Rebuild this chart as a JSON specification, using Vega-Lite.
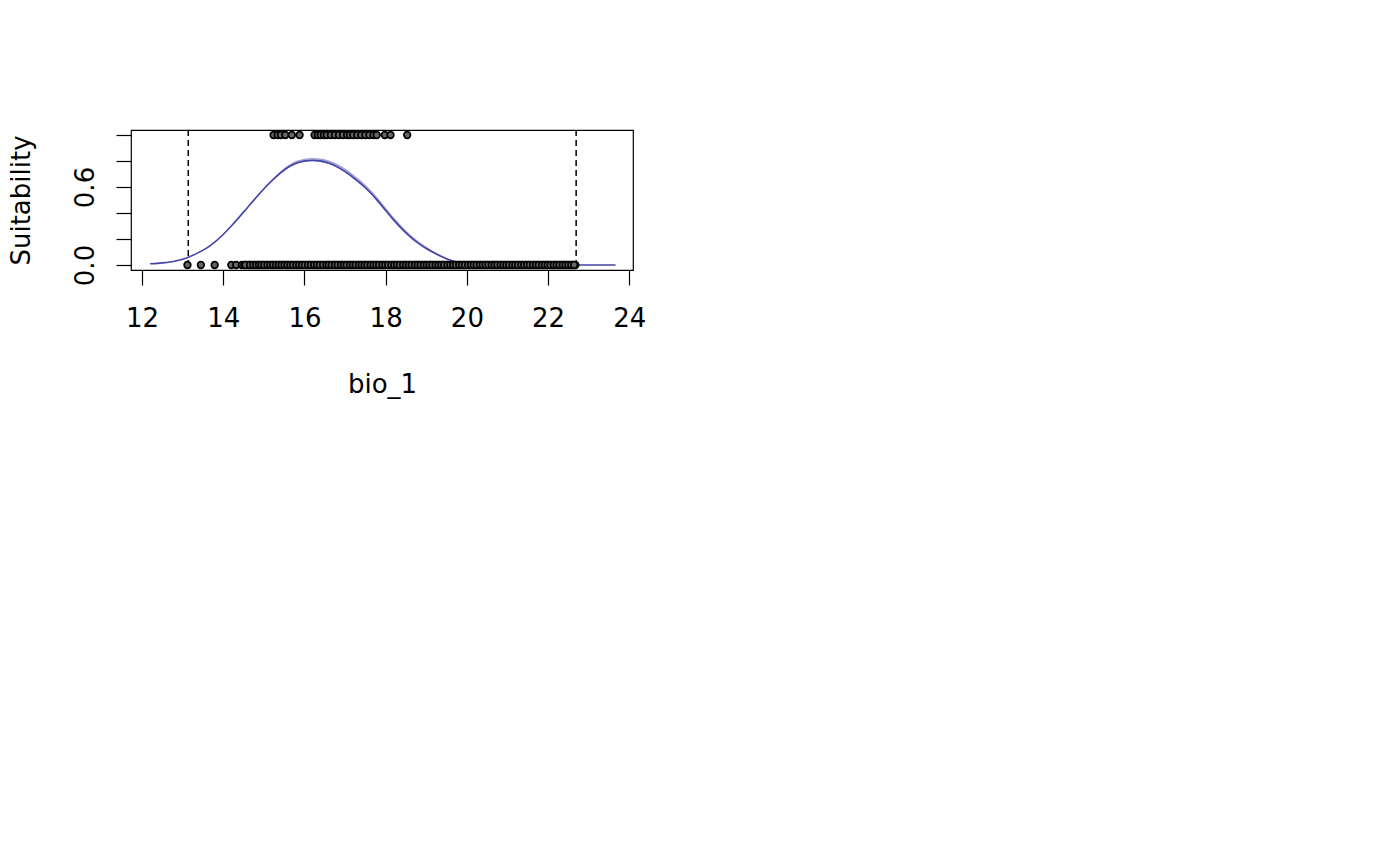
{
  "$schema": "https://vega.github.io/schema/vega-lite/v6.json",
  "width": 502,
  "height": 140,
  "autosize": {"type": "none"},
  "padding": {"left": 131, "top": 130, "right": 767, "bottom": 596},
  "background": "white",
  "config": {
    "view": {"stroke": "black", "strokeWidth": 1.2},
    "font": "DejaVu Sans",
    "axis": {"grid": false, "domain": false, "tickColor": "black", "tickWidth": 1.2, "tickSize": 15, "labelColor": "black", "titleColor": "black", "labelFont": "DejaVu Sans", "titleFont": "DejaVu Sans", "labelFontSize": 26, "titleFontSize": 26, "titleFontWeight": "normal", "labelOverlap": false, "labelBound": false, "labelFlush": false}
  },
  "datasets": {
    "curve": [
      {"x": 12.2, "y": 0.009, "lo": 0.008, "hi": 0.010},
      {"x": 12.5, "y": 0.016, "lo": 0.015, "hi": 0.017},
      {"x": 12.8, "y": 0.029, "lo": 0.028, "hi": 0.030},
      {"x": 13.0, "y": 0.045, "lo": 0.044, "hi": 0.046},
      {"x": 13.2, "y": 0.068, "lo": 0.067, "hi": 0.070},
      {"x": 13.4, "y": 0.097, "lo": 0.096, "hi": 0.099},
      {"x": 13.6, "y": 0.132, "lo": 0.131, "hi": 0.135},
      {"x": 13.8, "y": 0.178, "lo": 0.176, "hi": 0.181},
      {"x": 14.0, "y": 0.235, "lo": 0.233, "hi": 0.238},
      {"x": 14.2, "y": 0.300, "lo": 0.298, "hi": 0.304},
      {"x": 14.4, "y": 0.370, "lo": 0.368, "hi": 0.375},
      {"x": 14.6, "y": 0.443, "lo": 0.441, "hi": 0.449},
      {"x": 14.8, "y": 0.515, "lo": 0.512, "hi": 0.523},
      {"x": 15.0, "y": 0.585, "lo": 0.582, "hi": 0.595},
      {"x": 15.2, "y": 0.648, "lo": 0.645, "hi": 0.660},
      {"x": 15.4, "y": 0.705, "lo": 0.701, "hi": 0.719},
      {"x": 15.6, "y": 0.752, "lo": 0.748, "hi": 0.768},
      {"x": 15.8, "y": 0.783, "lo": 0.779, "hi": 0.801},
      {"x": 16.0, "y": 0.799, "lo": 0.795, "hi": 0.818},
      {"x": 16.2, "y": 0.804, "lo": 0.800, "hi": 0.824},
      {"x": 16.4, "y": 0.799, "lo": 0.795, "hi": 0.820},
      {"x": 16.6, "y": 0.782, "lo": 0.778, "hi": 0.804},
      {"x": 16.8, "y": 0.755, "lo": 0.751, "hi": 0.778},
      {"x": 17.0, "y": 0.718, "lo": 0.714, "hi": 0.742},
      {"x": 17.2, "y": 0.673, "lo": 0.669, "hi": 0.697},
      {"x": 17.4, "y": 0.622, "lo": 0.618, "hi": 0.646},
      {"x": 17.6, "y": 0.563, "lo": 0.559, "hi": 0.587},
      {"x": 17.8, "y": 0.495, "lo": 0.491, "hi": 0.519},
      {"x": 18.0, "y": 0.420, "lo": 0.416, "hi": 0.443},
      {"x": 18.2, "y": 0.345, "lo": 0.341, "hi": 0.367},
      {"x": 18.4, "y": 0.278, "lo": 0.275, "hi": 0.298},
      {"x": 18.6, "y": 0.218, "lo": 0.215, "hi": 0.236},
      {"x": 18.8, "y": 0.168, "lo": 0.165, "hi": 0.184},
      {"x": 19.0, "y": 0.127, "lo": 0.125, "hi": 0.140},
      {"x": 19.2, "y": 0.092, "lo": 0.090, "hi": 0.102},
      {"x": 19.4, "y": 0.062, "lo": 0.061, "hi": 0.070},
      {"x": 19.6, "y": 0.037, "lo": 0.036, "hi": 0.042},
      {"x": 19.8, "y": 0.020, "lo": 0.019, "hi": 0.023},
      {"x": 20.0, "y": 0.010, "lo": 0.009, "hi": 0.012},
      {"x": 20.3, "y": 0.004, "lo": 0.004, "hi": 0.005},
      {"x": 20.7, "y": 0.002, "lo": 0.002, "hi": 0.002},
      {"x": 21.2, "y": 0.001, "lo": 0.001, "hi": 0.001},
      {"x": 22.0, "y": 0.0005, "lo": 0.0005, "hi": 0.0005},
      {"x": 23.0, "y": 0.0002, "lo": 0.0002, "hi": 0.0002},
      {"x": 23.66, "y": 0.0001, "lo": 0.0001, "hi": 0.0001}
    ],
    "bounds": [{"x": 13.14}, {"x": 22.69}],
    "pts": [
      {"x": 13.12, "y": 0}, {"x": 13.45, "y": 0}, {"x": 13.79, "y": 0}, {"x": 14.2, "y": 0}, {"x": 14.32, "y": 0},
      {"x": 14.46, "y": 0}, {"x": 14.52, "y": 0}, {"x": 14.58, "y": 0}, {"x": 14.63, "y": 0}, {"x": 14.7, "y": 0},
      {"x": 14.78, "y": 0}, {"x": 14.85, "y": 0}, {"x": 14.9, "y": 0}, {"x": 14.97, "y": 0}, {"x": 15.05, "y": 0},
      {"x": 15.12, "y": 0}, {"x": 15.2, "y": 0}, {"x": 15.26, "y": 0}, {"x": 15.33, "y": 0}, {"x": 15.4, "y": 0},
      {"x": 15.47, "y": 0}, {"x": 15.55, "y": 0}, {"x": 15.61, "y": 0}, {"x": 15.68, "y": 0}, {"x": 15.76, "y": 0},
      {"x": 15.83, "y": 0}, {"x": 15.9, "y": 0}, {"x": 15.98, "y": 0}, {"x": 16.05, "y": 0}, {"x": 16.12, "y": 0},
      {"x": 16.2, "y": 0}, {"x": 16.27, "y": 0}, {"x": 16.34, "y": 0}, {"x": 16.42, "y": 0}, {"x": 16.5, "y": 0},
      {"x": 16.57, "y": 0}, {"x": 16.63, "y": 0}, {"x": 16.71, "y": 0}, {"x": 16.78, "y": 0}, {"x": 16.86, "y": 0},
      {"x": 16.93, "y": 0}, {"x": 17.0, "y": 0}, {"x": 17.08, "y": 0}, {"x": 17.15, "y": 0}, {"x": 17.22, "y": 0},
      {"x": 17.3, "y": 0}, {"x": 17.37, "y": 0}, {"x": 17.44, "y": 0}, {"x": 17.51, "y": 0}, {"x": 17.59, "y": 0},
      {"x": 17.66, "y": 0}, {"x": 17.73, "y": 0}, {"x": 17.8, "y": 0}, {"x": 17.88, "y": 0}, {"x": 17.95, "y": 0},
      {"x": 18.02, "y": 0}, {"x": 18.1, "y": 0}, {"x": 18.17, "y": 0}, {"x": 18.24, "y": 0}, {"x": 18.31, "y": 0},
      {"x": 18.39, "y": 0}, {"x": 18.46, "y": 0}, {"x": 18.53, "y": 0}, {"x": 18.6, "y": 0}, {"x": 18.68, "y": 0},
      {"x": 18.75, "y": 0}, {"x": 18.82, "y": 0}, {"x": 18.9, "y": 0}, {"x": 18.97, "y": 0}, {"x": 19.04, "y": 0},
      {"x": 19.11, "y": 0}, {"x": 19.19, "y": 0}, {"x": 19.26, "y": 0}, {"x": 19.33, "y": 0}, {"x": 19.41, "y": 0},
      {"x": 19.48, "y": 0}, {"x": 19.55, "y": 0}, {"x": 19.62, "y": 0}, {"x": 19.7, "y": 0}, {"x": 19.77, "y": 0},
      {"x": 19.84, "y": 0}, {"x": 19.92, "y": 0}, {"x": 19.99, "y": 0}, {"x": 20.06, "y": 0}, {"x": 20.13, "y": 0},
      {"x": 20.21, "y": 0}, {"x": 20.28, "y": 0}, {"x": 20.35, "y": 0}, {"x": 20.43, "y": 0}, {"x": 20.5, "y": 0},
      {"x": 20.57, "y": 0}, {"x": 20.64, "y": 0}, {"x": 20.72, "y": 0}, {"x": 20.79, "y": 0}, {"x": 20.86, "y": 0},
      {"x": 20.94, "y": 0}, {"x": 21.01, "y": 0}, {"x": 21.08, "y": 0}, {"x": 21.15, "y": 0}, {"x": 21.23, "y": 0},
      {"x": 21.3, "y": 0}, {"x": 21.37, "y": 0}, {"x": 21.45, "y": 0}, {"x": 21.52, "y": 0}, {"x": 21.59, "y": 0},
      {"x": 21.66, "y": 0}, {"x": 21.74, "y": 0}, {"x": 21.81, "y": 0}, {"x": 21.88, "y": 0}, {"x": 21.96, "y": 0},
      {"x": 22.03, "y": 0}, {"x": 22.1, "y": 0}, {"x": 22.17, "y": 0}, {"x": 22.25, "y": 0}, {"x": 22.32, "y": 0},
      {"x": 22.39, "y": 0}, {"x": 22.46, "y": 0}, {"x": 22.53, "y": 0}, {"x": 22.6, "y": 0}, {"x": 22.67, "y": 0},
      {"x": 14.55, "y": 0}, {"x": 14.66, "y": 0}, {"x": 14.74, "y": 0}, {"x": 14.81, "y": 0}, {"x": 14.88, "y": 0},
      {"x": 14.94, "y": 0}, {"x": 15.01, "y": 0}, {"x": 15.09, "y": 0}, {"x": 15.16, "y": 0}, {"x": 15.23, "y": 0},
      {"x": 15.3, "y": 0}, {"x": 15.37, "y": 0}, {"x": 15.44, "y": 0}, {"x": 15.51, "y": 0}, {"x": 15.58, "y": 0},
      {"x": 15.65, "y": 0}, {"x": 15.72, "y": 0}, {"x": 15.8, "y": 0}, {"x": 15.87, "y": 0}, {"x": 15.94, "y": 0},
      {"x": 16.01, "y": 0}, {"x": 16.09, "y": 0}, {"x": 16.16, "y": 0}, {"x": 16.24, "y": 0}, {"x": 16.31, "y": 0},
      {"x": 16.38, "y": 0}, {"x": 16.46, "y": 0}, {"x": 16.54, "y": 0}, {"x": 16.6, "y": 0}, {"x": 16.67, "y": 0},
      {"x": 16.75, "y": 0}, {"x": 16.82, "y": 0}, {"x": 16.9, "y": 0}, {"x": 16.97, "y": 0}, {"x": 17.04, "y": 0},
      {"x": 17.12, "y": 0}, {"x": 17.19, "y": 0}, {"x": 17.26, "y": 0}, {"x": 17.34, "y": 0}, {"x": 17.41, "y": 0},
      {"x": 17.48, "y": 0}, {"x": 17.55, "y": 0}, {"x": 17.63, "y": 0}, {"x": 17.7, "y": 0}, {"x": 17.77, "y": 0},
      {"x": 17.84, "y": 0}, {"x": 17.92, "y": 0}, {"x": 17.99, "y": 0}, {"x": 18.06, "y": 0}, {"x": 18.14, "y": 0},
      {"x": 18.21, "y": 0}, {"x": 18.28, "y": 0}, {"x": 18.35, "y": 0}, {"x": 18.43, "y": 0}, {"x": 18.5, "y": 0},
      {"x": 18.57, "y": 0}, {"x": 18.64, "y": 0}, {"x": 18.72, "y": 0}, {"x": 18.79, "y": 0}, {"x": 18.86, "y": 0},
      {"x": 18.94, "y": 0}, {"x": 19.01, "y": 0}, {"x": 19.08, "y": 0}, {"x": 19.15, "y": 0}, {"x": 19.23, "y": 0},
      {"x": 19.3, "y": 0}, {"x": 19.37, "y": 0}, {"x": 19.44, "y": 0}, {"x": 19.52, "y": 0}, {"x": 19.59, "y": 0},
      {"x": 19.66, "y": 0}, {"x": 19.73, "y": 0}, {"x": 19.81, "y": 0}, {"x": 19.88, "y": 0}, {"x": 19.95, "y": 0},
      {"x": 20.03, "y": 0}, {"x": 20.1, "y": 0}, {"x": 20.17, "y": 0}, {"x": 20.24, "y": 0}, {"x": 20.32, "y": 0},
      {"x": 20.39, "y": 0}, {"x": 20.46, "y": 0}, {"x": 20.53, "y": 0}, {"x": 20.61, "y": 0}, {"x": 20.68, "y": 0},
      {"x": 20.75, "y": 0}, {"x": 20.83, "y": 0}, {"x": 20.9, "y": 0}, {"x": 20.97, "y": 0}, {"x": 21.04, "y": 0},
      {"x": 21.12, "y": 0}, {"x": 21.19, "y": 0}, {"x": 21.26, "y": 0}, {"x": 21.34, "y": 0}, {"x": 21.41, "y": 0},
      {"x": 21.48, "y": 0}, {"x": 21.55, "y": 0}, {"x": 21.63, "y": 0}, {"x": 21.7, "y": 0}, {"x": 21.77, "y": 0},
      {"x": 21.85, "y": 0}, {"x": 21.92, "y": 0}, {"x": 21.99, "y": 0}, {"x": 22.06, "y": 0}, {"x": 22.14, "y": 0},
      {"x": 22.21, "y": 0}, {"x": 22.28, "y": 0}, {"x": 22.36, "y": 0}, {"x": 22.43, "y": 0}, {"x": 22.5, "y": 0},
      {"x": 22.57, "y": 0}, {"x": 22.64, "y": 0},
      {"x": 15.24, "y": 1}, {"x": 15.34, "y": 1}, {"x": 15.42, "y": 1}, {"x": 15.53, "y": 1}, {"x": 15.69, "y": 1},
      {"x": 15.88, "y": 1}, {"x": 16.25, "y": 1}, {"x": 16.33, "y": 1}, {"x": 16.4, "y": 1}, {"x": 16.48, "y": 1},
      {"x": 16.55, "y": 1}, {"x": 16.65, "y": 1}, {"x": 16.75, "y": 1}, {"x": 16.85, "y": 1}, {"x": 16.95, "y": 1},
      {"x": 17.05, "y": 1}, {"x": 17.12, "y": 1}, {"x": 17.2, "y": 1}, {"x": 17.3, "y": 1}, {"x": 17.4, "y": 1},
      {"x": 17.5, "y": 1}, {"x": 17.6, "y": 1}, {"x": 17.7, "y": 1}, {"x": 17.78, "y": 1}, {"x": 17.98, "y": 1},
      {"x": 18.12, "y": 1}, {"x": 18.53, "y": 1}
    ]
  },
  "layer": [
    {
      "data": {"name": "curve"},
      "mark": {"type": "area", "color": "#8080c8", "opacity": 0.75, "interpolate": "monotone"},
      "encoding": {
        "x": {"field": "x", "type": "quantitative", "scale": {"domain": [11.73, 24.09], "nice": false, "zero": false},
              "axis": {"values": [12, 14, 16, 18, 20, 22, 24], "tickCount": 20, "format": "d", "title": "bio_1", "labelPadding": 20, "titlePadding": 40}},
        "y": {"field": "lo", "type": "quantitative", "scale": {"domain": [-0.0385, 1.0385], "nice": false, "zero": false},
              "axis": {"values": [0, 0.2, 0.4, 0.6, 0.8, 1.0], "tickCount": 20, "title": "Suitability", "labelAngle": -90, "labelAlign": "center", "labelBaseline": "bottom", "labelPadding": 18, "titlePadding": 38,
                       "labelExpr": "(datum.value == 0 || abs(datum.value - 0.6) < 0.001) ? format(datum.value, '.1f') : ''"}},
        "y2": {"field": "hi"}
      }
    },
    {
      "data": {"name": "curve"},
      "mark": {"type": "line", "color": "#4444a6", "strokeWidth": 1.6, "interpolate": "monotone"},
      "encoding": {
        "x": {"field": "x", "type": "quantitative"},
        "y": {"field": "y", "type": "quantitative"}
      }
    },
    {
      "data": {"name": "bounds"},
      "mark": {"type": "rule", "color": "black", "strokeWidth": 1.5, "strokeDash": [6, 4]},
      "encoding": {
        "x": {"field": "x", "type": "quantitative"}
      }
    },
    {
      "data": {"name": "pts"},
      "mark": {"type": "point", "shape": "circle", "filled": false, "fill": "#666666", "fillOpacity": 1, "stroke": "black", "strokeWidth": 1.7, "size": 44, "opacity": 1},
      "encoding": {
        "x": {"field": "x", "type": "quantitative"},
        "y": {"field": "y", "type": "quantitative"}
      }
    }
  ]
}
